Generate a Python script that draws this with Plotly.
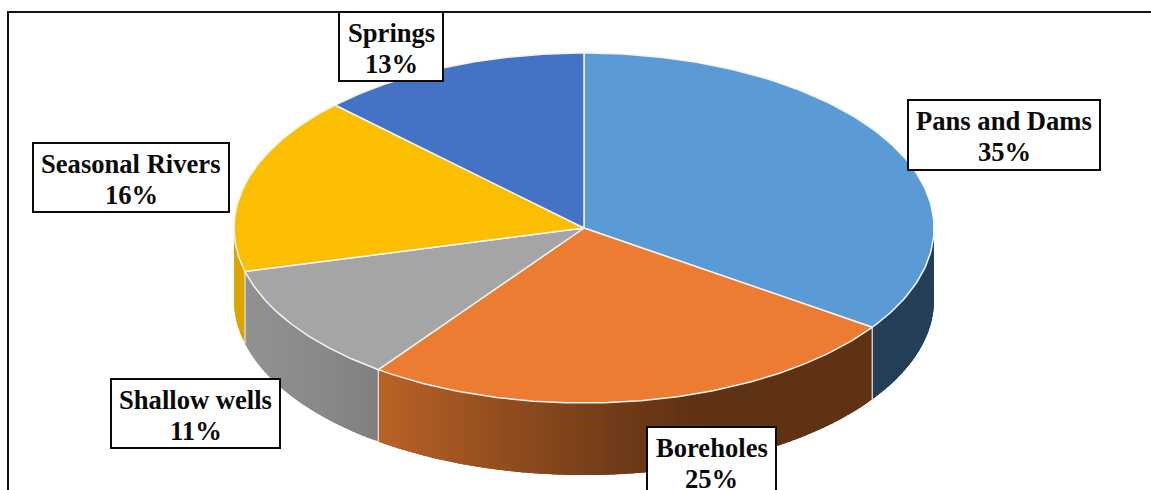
import numpy as np
import plotly.graph_objects as go

# --- data ---
categories = ["Pans and Dams", "Boreholes", "Shallow wells", "Seasonal Rivers", "Springs"]
shares = [34.6, 25.4, 11.0, 16.4, 12.6]
top_colors = ["#5b9bd5", "#eb7c31", "#a5a5a5", "#fbbe00", "#4472c4"]

# --- pie geometry in page pixels ---
CX, CY, RX, RY, DEPTH = 584, 228, 350, 175, 72

# wall shading: (x position, colour) stops per slice
wall_stops = {
    "Pans and Dams": [(872, (36, 63, 87)), (933, (36, 63, 87))],
    "Boreholes": [(378, (186, 98, 38)), (490, (150, 79, 31)), (620, (112, 59, 24)),
                  (700, (95, 50, 19)), (872, (95, 50, 19))],
    "Shallow wells": [(245, (146, 146, 146)), (330, (136, 136, 136)), (378, (127, 127, 127))],
    "Seasonal Rivers": [(234, (220, 165, 0)), (245, (220, 165, 0))],
    "Springs": [(0, (40, 80, 140)), (1151, (40, 80, 140))],
}

# label boxes: left, top, right, bottom
label_boxes = {
    "Pans and Dams": (908, 100, 1100, 170),
    "Boreholes": (647, 427, 776, 500),
    "Shallow wells": (111, 379, 280, 448),
    "Seasonal Rivers": (33, 143, 229, 212),
    "Springs": (339, 12, 443, 81),
}


def ex(t):
    return CX + RX * np.sin(t)


def ey(t):
    return CY - RY * np.cos(t)


fig = go.Figure()
edges = np.radians(np.concatenate([[0], np.cumsum(shares)]) * 3.6)
WALL_A, WALL_B = np.pi / 2, 3 * np.pi / 2
OVERLAP = np.radians(1.5)

# walls: each band runs slightly under the next one so no seams show
for i, name in enumerate(categories):
    a, b = max(edges[i], WALL_A), min(edges[i + 1], WALL_B)
    if b <= a:
        continue
    stops = wall_stops[name]
    sx = [s[0] for s in stops]
    n = max(int(np.degrees(b - a)), 2)
    ts = np.linspace(a, b, n + 1)
    for k in range(n):
        seg = np.linspace(ts[k], min(ts[k + 1] + OVERLAP, b), 6)
        xm = ex((ts[k] + ts[k + 1]) / 2)
        rgb = [int(round(np.interp(xm, sx, [s[1][c] for s in stops]))) for c in range(3)]
        col = f"rgb({rgb[0]},{rgb[1]},{rgb[2]})"
        xs = np.concatenate([ex(seg), ex(seg[::-1])])
        ys = np.concatenate([ey(seg), ey(seg[::-1]) + DEPTH])
        fig.add_trace(go.Scatter(x=xs, y=ys, mode="lines", fill="toself", fillcolor=col,
                                 line=dict(width=0), hoverinfo="skip", showlegend=False))

# white dividers on the wall
for t in edges[1:]:
    if WALL_A < t < WALL_B:
        fig.add_trace(go.Scatter(x=[ex(t), ex(t)], y=[ey(t), ey(t) + DEPTH], mode="lines",
                                 line=dict(color="#e8e8e8", width=1.2), hoverinfo="skip", showlegend=False))

# top face slices
for i, name in enumerate(categories):
    ts = np.linspace(edges[i], edges[i + 1], 120)
    xs = np.concatenate([[CX], ex(ts), [CX]])
    ys = np.concatenate([[CY], ey(ts), [CY]])
    fig.add_trace(go.Scatter(x=xs, y=ys, mode="lines", fill="toself", fillcolor=top_colors[i],
                             line=dict(color="#f4f4f4", width=1.5), name=name,
                             text=f"{name}: {round(shares[i])}%", hoverinfo="text", hoveron="fills",
                             showlegend=False))

shapes = [
    dict(type="path", path="M 1160 12 L 8 12 L 8 500", line=dict(color="#111111", width=2), layer="above"),
]
annotations = []
for i, name in enumerate(categories):
    l, t, r, b = label_boxes[name]
    shapes.append(dict(type="rect", x0=l, y0=t, x1=r, y1=b, line=dict(color="#0a0a0a", width=2),
                       fillcolor="white", layer="above"))
    xc = (l + r) / 2
    for text, yc in ((name, t + 21), (f"{round(shares[i])}%", t + 52)):
        annotations.append(dict(x=xc, y=yc, text=text, showarrow=False, xanchor="center", yanchor="middle",
                                font=dict(family="Liberation Serif", size=26.6, color="#0a0a0a", weight="bold")))

fig.update_layout(
    width=1151, height=490, margin=dict(l=0, r=0, t=0, b=0, pad=0),
    paper_bgcolor="white", plot_bgcolor="white", showlegend=False,
    xaxis=dict(range=[0, 1151], visible=False, fixedrange=True),
    yaxis=dict(range=[490, 0], visible=False, fixedrange=True),
    shapes=shapes, annotations=annotations,
)
fig.write_html("out.html", config=dict(displayModeBar=False),
               post_script="document.body.style.margin='0';document.body.style.overflow='hidden';")
